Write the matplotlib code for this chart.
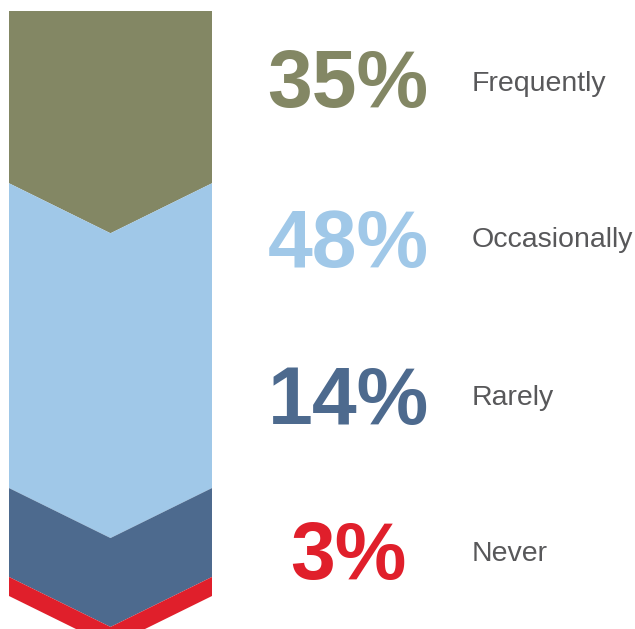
import matplotlib
matplotlib.use("Agg")
import matplotlib.pyplot as plt
from matplotlib.patches import Polygon

# Survey shares, listed top to bottom
categories = ["Frequently", "Occasionally", "Rarely", "Never"]
values = [35, 48, 14, 3]
value_labels = ["35%", "48%", "14%", "3%"]
colors = ["#838764", "#a0c8e8", "#4d6a8e", "#e01f2b"]
label_color = "#58585a"

W, H = 635, 629
DPI = 100
fig = plt.figure(figsize=(W / DPI, H / DPI), dpi=DPI)
fig.patch.set_facecolor("white")

# Pixel geometry of the chevron column
PX_PER_UNIT = 6.35          # pixels per percentage point
BASE_PX = 596               # pixel row of value 0 at the column edges
TOP_PX = 11                 # top edge of the column
BAR_LEFT, BAR_RIGHT = 9, 212
CHEVRON_PX = 50             # depth of each chevron point

def px_to_val(py):
    return (BASE_PX - py) / PX_PER_UNIT

ax = fig.add_axes([0, 0, 1, (H - TOP_PX) / H])
ax.set_xlim(0, W)
ax.set_ylim(px_to_val(H), px_to_val(TOP_PX))
ax.axis("off")

depth = CHEVRON_PX / PX_PER_UNIT
cx = (BAR_LEFT + BAR_RIGHT) / 2

# stack from the bottom up
n = len(values)
cum = 0.0
bounds = [None] * n
for i in range(n - 1, -1, -1):
    bottom = cum
    top = cum + values[i]
    bounds[i] = (bottom, top)
    cum = top

for i, (bottom, top) in enumerate(bounds):
    if i == 0:
        top_edge = [(BAR_LEFT, top), (BAR_RIGHT, top)]
    else:
        top_edge = [(BAR_LEFT, top), (cx, top - depth), (BAR_RIGHT, top)]
    bottom_edge = [(BAR_RIGHT, bottom), (cx, bottom - depth), (BAR_LEFT, bottom)]
    poly = Polygon(top_edge + bottom_edge, closed=True, facecolor=colors[i],
                   edgecolor="none", antialiased=True)
    ax.add_patch(poly)

# Percentages and category names on the right
pct_font = ["Liberation Sans", "DejaVu Sans"]
lbl_font = ["Liberation Sans", "DejaVu Sans"]
pct_baselines = [107, 267, 424, 579]
lbl_baselines = [91, 247, 405, 561]
PCT_X = 348
LBL_X = 472

for i in range(n):
    fig.text(PCT_X / W, 1 - pct_baselines[i] / H, value_labels[i],
             ha="center", va="baseline", fontsize=58, fontweight="bold",
             family=pct_font, color=colors[i])
    fig.text(LBL_X / W, 1 - lbl_baselines[i] / H, categories[i],
             ha="left", va="baseline", fontsize=20.5,
             family=lbl_font, color=label_color)

fig.savefig("out.png", dpi=DPI, facecolor="white")
